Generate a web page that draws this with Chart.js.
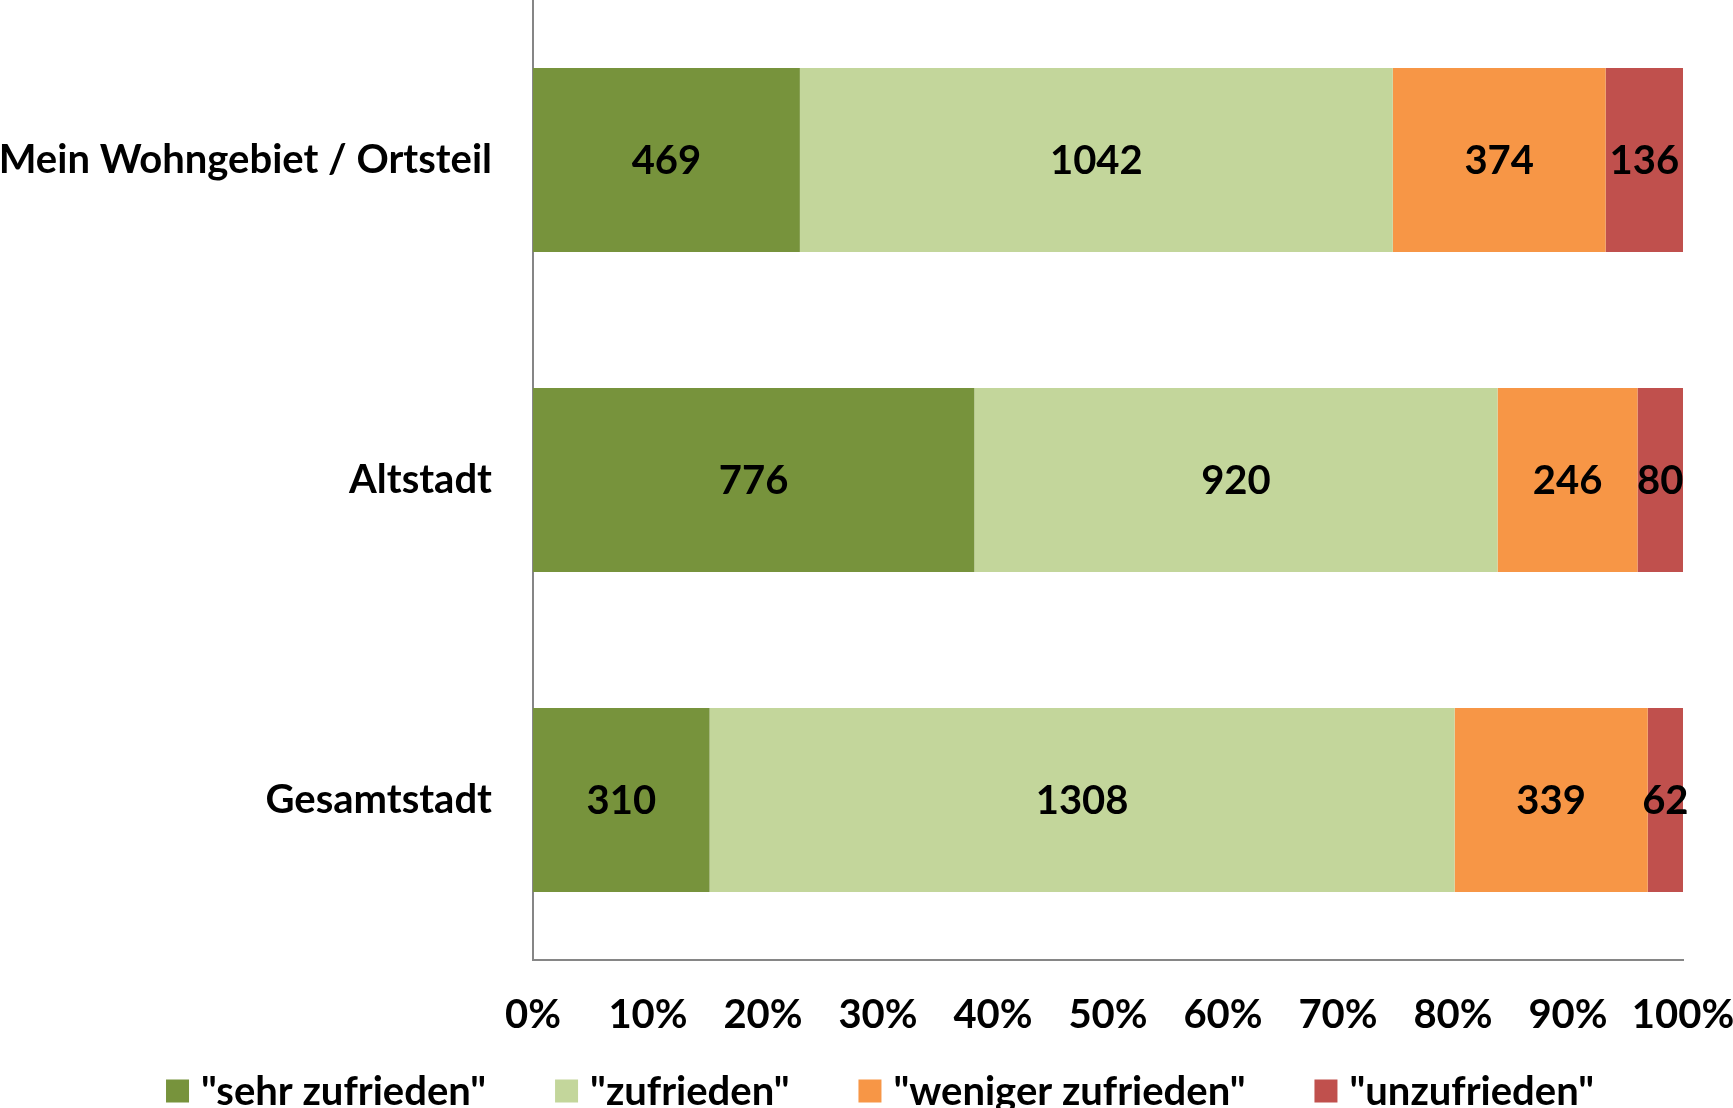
<!DOCTYPE html>
<html>
<head>
<meta charset="utf-8">
<script src="https://cdn.jsdelivr.net/npm/chart.js@4.4.1/dist/chart.umd.min.js"></script>
<style>
  html, body { margin: 0; padding: 0; background: #fff; overflow: hidden; }
  #wrap { position: relative; width: 1733px; height: 1130px; }
</style>
</head>
<body>
<div id="wrap"><canvas id="myChart"></canvas></div>
<script>
const categories = ["Mein Wohngebiet / Ortsteil", "Altstadt", "Gesamtstadt"];
const seriesNames = ['"sehr zufrieden"', '"zufrieden"', '"weniger zufrieden"', '"unzufrieden"'];
const sehrZufrieden = [469, 776, 310];
const zufrieden = [1042, 920, 1308];
const wenigerZufrieden = [374, 246, 339];
const unzufrieden = [136, 80, 62];
const colors = ["#77933C", "#C3D69B", "#F79646", "#C0504D"];

const counts = [sehrZufrieden, zufrieden, wenigerZufrieden, unzufrieden];
const totals = categories.map((c, i) => counts.reduce((s, arr) => s + arr[i], 0));
const FONT = { family: "Lato", weight: "bold", size: 40 };

const ctx = document.getElementById("myChart");

// counts written in the middle of each segment
const countLabels = {
  id: "countLabels",
  afterDatasetsDraw(chart) {
    const c = chart.ctx;
    c.save();
    c.font = "bold 40px Lato";
    c.fillStyle = "#000";
    c.textAlign = "center";
    c.textBaseline = "middle";
    chart.data.datasets.forEach((ds, di) => {
      chart.getDatasetMeta(di).data.forEach((bar, i) => {
        c.fillText(String(ds.counts[i]), (bar.x + bar.base) / 2, bar.y + 1);
      });
    });
    c.restore();
  }
};

// legend row at the bottom, like the excel one
const bottomLegend = {
  id: "bottomLegend",
  afterDraw(chart) {
    const c = chart.ctx;
    const box = 23, gapText = 12, gapItem = 69, centerX = 880, midY = 1091;
    c.save();
    c.font = "bold 40px Lato";
    const widths = chart.data.datasets.map(ds => c.measureText(ds.label).width);
    const total = widths.reduce((s, w) => s + box + gapText + w, 0) + gapItem * (widths.length - 1);
    let x = centerX - total / 2;
    c.textBaseline = "middle";
    c.textAlign = "left";
    chart.data.datasets.forEach((ds, i) => {
      c.fillStyle = ds.backgroundColor;
      c.fillRect(x, midY - box / 2, box, box);
      c.fillStyle = "#000";
      c.fillText(ds.label, x + box + gapText, midY + 1);
      x += box + gapText + widths[i] + gapItem;
    });
    c.restore();
  }
};

new Chart(ctx, {
  type: "bar",
  data: {
    labels: categories,
    datasets: counts.map((arr, k) => ({
      label: seriesNames[k],
      data: arr.map((v, i) => v / totals[i] * 100),
      counts: arr,
      backgroundColor: colors[k],
      borderWidth: 0,
      barPercentage: 0.575,
      categoryPercentage: 1
    }))
  },
  options: {
    indexAxis: "y",
    responsive: true,
    maintainAspectRatio: false,
    animation: false,
    layout: { padding: { left: 0, right: 50, top: 0, bottom: 80 } },
    scales: {
      x: {
        stacked: true,
        min: 0,
        max: 100,
        grid: { display: false, drawTicks: false },
        border: { color: "#868686", width: 2 },
        ticks: { stepSize: 10, color: "#000", font: FONT, padding: 31, maxRotation: 0,
          callback: v => v + "%" },
        afterFit: s => { s.height = 90; s.paddingLeft = 0; s.paddingRight = 0; }
      },
      y: {
        stacked: true,
        grid: { display: false, drawTicks: false },
        border: { color: "#868686", width: 2 },
        ticks: { color: "#000", font: FONT, padding: 41 },
        afterFit: s => { s.width = 533; s.paddingTop = 0; s.paddingBottom = 0; }
      }
    },
    plugins: {
      tooltip: { enabled: false },
      legend: { display: false }
    }
  },
  plugins: [countLabels, bottomLegend]
});
</script>
</body>
</html>
